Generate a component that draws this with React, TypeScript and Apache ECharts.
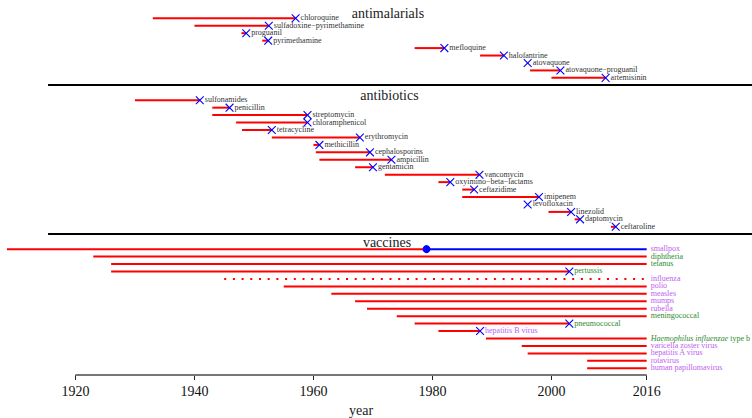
import { useEffect, useRef } from "react";
import * as echarts from "echarts";

// ---------- data ----------
const antimalarials = [
  "chloroquine",
  "sulfadoxine\u2212pyrimethamine",
  "proguanil",
  "pyrimethamine",
  "mefloquine",
  "halofantrine",
  "atovaquone",
  "atovaquone\u2212proguanil",
  "artemisinin",
];
const antimalarialIntroduced = [1933, 1940, 1947.9, 1951.4, 1977, 1988, 1996, 1996.4, 2000];
const antimalarialResistance = [1957, 1952.5, 1948.7, 1952.4, 1982, 1992, 1996, 2001.5, 2009.1];

const antibiotics = [
  "sulfonamides",
  "penicillin",
  "streptomycin",
  "chloramphenicol",
  "tetracycline",
  "erythromycin",
  "methicillin",
  "cephalosporins",
  "ampicillin",
  "gentamicin",
  "vancomycin",
  "oxyimino\u2212beta\u2212lactams",
  "ceftazidime",
  "imipenem",
  "levofloxacin",
  "linezolid",
  "daptomycin",
  "ceftaroline",
];
const antibioticIntroduced = [1930, 1943, 1943, 1947, 1948, 1953, 1960, 1960.4, 1961, 1967, 1972, 1981, 1985, 1985, 1996, 1999.5, 2003.9, 2010];
const antibioticResistance = [1940.9, 1945.9, 1959, 1959, 1953, 1967.8, 1961, 1969.5, 1973.1, 1970, 1987.9, 1983, 1987, 1997.9, 1996, 2003.3, 2004.8, 2010.8];

const vaccines = [
  "smallpox",
  "diphtheria",
  "tetanus",
  "pertussis",
  "influenza",
  "polio",
  "measles",
  "mumps",
  "rubella",
  "meningococcal",
  "pneumococcal",
  "hepatitis B virus",
  "Haemophilus influenzae type b",
  "varicella zoster virus",
  "hepatitis A virus",
  "rotavirus",
  "human papillomavirus",
];
const vaccineIntroduced = [1796, 1923, 1926, 1926, 1945, 1955, 1963, 1967, 1969, 1974, 1977, 1981, 1989, 1995, 1996, 2006, 2006];
const vaccineResistance: (number | null)[] = [null, null, null, 2003, null, null, null, null, null, null, 2003, 1988, null, null, null, null, null];
const vaccinePathogen = [
  "virus", "bacterium", "bacterium", "bacterium", "virus", "virus", "virus", "virus", "virus",
  "bacterium", "bacterium", "virus", "bacterium", "virus", "virus", "virus", "virus",
];
const seasonalVaccines = ["influenza"];
const smallpoxEradicated = 1979;
const presentYear = 2016;

const xTicks = [1920, 1940, 1960, 1980, 2000, 2016];
const axisSpan = [1920, 2016];
const panelTitles = ["antimalarials", "antibiotics", "vaccines"];
const panelBoundaries = [8.96, 28.96];
const boundaryStart = 1915.4;

// ---------- layout / style ----------
const FONT = "'Liberation Serif', 'Times New Roman', Times, serif";
const RED = "#ff0000";
const BLUE = "#0000ff";
const VIOLET = "#c060f0";
const GREEN = "#2e8b2e";
const LABEL = "#333333";
const ANTIBIOTIC_OFFSET = 11;
const VACCINE_OFFSET = 31;

type Row = {
  start: number;
  redEnd: number;
  slot: number;
  marker: number | null;
  label: string;
  color: string;
  dotted: boolean;
  eradicated: number | null;
  italicPrefix?: string;
};

function buildRows(): Row[] {
  const rows: Row[] = [];
  antimalarials.forEach((n, i) =>
    rows.push({
      start: antimalarialIntroduced[i],
      redEnd: antimalarialResistance[i],
      slot: i,
      marker: antimalarialResistance[i],
      label: n,
      color: LABEL,
      dotted: false,
      eradicated: null,
    })
  );
  antibiotics.forEach((n, i) =>
    rows.push({
      start: antibioticIntroduced[i],
      redEnd: antibioticResistance[i],
      slot: ANTIBIOTIC_OFFSET + i,
      marker: antibioticResistance[i],
      label: n,
      color: LABEL,
      dotted: false,
      eradicated: null,
    })
  );
  vaccines.forEach((n, i) => {
    const res = vaccineResistance[i];
    const erad = n === "smallpox" ? smallpoxEradicated : null;
    const row: Row = {
      start: vaccineIntroduced[i],
      redEnd: res !== null ? res : erad !== null ? erad : presentYear,
      slot: VACCINE_OFFSET + i,
      marker: res,
      label: n,
      color: vaccinePathogen[i] === "virus" ? VIOLET : GREEN,
      dotted: seasonalVaccines.includes(n),
      eradicated: erad,
    };
    if (n.startsWith("Haemophilus")) row.italicPrefix = "Haemophilus influenzae";
    rows.push(row);
  });
  return rows;
}

const titleStyle = (text: string) => ({
  text,
  fontSize: 14,
  fontFamily: FONT,
  fill: "#222",
  align: "center",
  verticalAlign: "middle",
});

export default function App() {
  const ref = useRef<HTMLDivElement>(null);

  useEffect(() => {
    if (!ref.current) return;
    const chart = echarts.init(ref.current, undefined, { renderer: "svg" });
    const rows = buildRows();

    const renderRow = (params: any, api: any) => {
      const r = rows[params.dataIndex];
      const a = api.coord([r.start, r.slot]);
      const b = api.coord([r.redEnd, r.slot]);
      const y = a[1];
      const children: any[] = [];
      const lineStyle: any = { stroke: RED, lineWidth: 2 };
      if (r.dotted) {
        lineStyle.lineDash = [2, 6.7];
      }
      children.push({
        type: "line",
        shape: { x1: a[0], y1: y, x2: b[0], y2: y },
        style: lineStyle,
      });
      let labelX = b[0] + 4;
      if (r.eradicated !== null) {
        const c = api.coord([r.eradicated, r.slot]);
        const d = api.coord([presentYear, r.slot]);
        children.push({
          type: "line",
          shape: { x1: c[0], y1: y, x2: d[0], y2: y },
          style: { stroke: BLUE, lineWidth: 2 },
        });
        children.push({
          type: "circle",
          shape: { cx: c[0], cy: y, r: 4 },
          style: { fill: BLUE },
        });
        labelX = d[0] + 4;
      }
      if (r.marker !== null) {
        const m = api.coord([r.marker, r.slot]);
        const h = 3.9;
        children.push({
          type: "line",
          shape: { x1: m[0] - h, y1: y - h, x2: m[0] + h, y2: y + h },
          style: { stroke: BLUE, lineWidth: 1.1 },
        });
        children.push({
          type: "line",
          shape: { x1: m[0] - h, y1: y + h, x2: m[0] + h, y2: y - h },
          style: { stroke: BLUE, lineWidth: 1.1 },
        });
        labelX = m[0] + 5;
      }
      const textStyle: any = {
        text: r.label,
        fill: r.color,
        fontSize: 8,
        lineHeight: 7,
        fontFamily: FONT,
        align: "left",
        verticalAlign: "middle",
      };
      if (r.italicPrefix) {
        textStyle.text = "{i|" + r.italicPrefix + "}" + r.label.slice(r.italicPrefix.length);
        textStyle.rich = {
          i: { fontStyle: "italic", fill: r.color, fontSize: 8, lineHeight: 7, fontFamily: FONT },
        };
      }
      children.push({ type: "text", x: labelX, y: y - 0.5, style: textStyle });
      return { type: "group", children };
    };

    const option: any = {
      animation: false,
      backgroundColor: "#ffffff",
      grid: { left: 7, right: 0, top: 0, bottom: 43, containLabel: false },
      xAxis: {
        type: "value",
        position: "bottom",
        min: 1908.5,
        max: 2033.7,
        axisLine: { show: false, onZero: false },
        splitLine: { show: false },
        axisTick: {
          show: true,
          customValues: xTicks,
          length: 5,
          lineStyle: { color: "#222", width: 1 },
        },
        axisLabel: {
          show: true,
          customValues: xTicks,
          formatter: (v: number) => String(v),
          fontSize: 14,
          fontFamily: FONT,
          color: "#111",
          margin: 9,
        },
      },
      yAxis: {
        type: "value",
        inverse: true,
        min: -2.4574,
        max: 47.9,
        show: false,
      },
      graphic: [
        { type: "text", x: 388, y: 13, style: titleStyle(panelTitles[0]) },
        { type: "text", x: 389.5, y: 95, style: titleStyle(panelTitles[1]) },
        { type: "text", x: 387, y: 242, style: titleStyle(panelTitles[2]) },
        { type: "text", x: 361, y: 410, style: titleStyle("year") },
      ],
      series: [
        {
          type: "custom",
          name: "boundaries",
          silent: true,
          clip: false,
          renderItem: (params: any, api: any) => {
            const p = api.coord([boundaryStart, panelBoundaries[params.dataIndex]]);
            const right = params.coordSys.x + params.coordSys.width;
            return {
              type: "line",
              shape: { x1: p[0], y1: p[1], x2: right, y2: p[1] },
              style: { stroke: "#000", lineWidth: 2 },
            };
          },
          data: panelBoundaries.map((s) => [boundaryStart, s]),
          encode: { x: 0, y: 1 },
        },
        {
          type: "custom",
          name: "axis",
          silent: true,
          clip: false,
          renderItem: (params: any, api: any) => {
            const p0 = api.coord([axisSpan[0], 0]);
            const p1 = api.coord([axisSpan[1], 0]);
            const y = params.coordSys.y + params.coordSys.height;
            return {
              type: "line",
              shape: { x1: p0[0], y1: y, x2: p1[0], y2: y },
              style: { stroke: "#777", lineWidth: 2 },
            };
          },
          data: [[axisSpan[0], axisSpan[1]]],
          encode: { x: [0, 1] },
        },
        {
          type: "custom",
          name: "timeline",
          silent: true,
          clip: true,
          renderItem: renderRow,
          data: rows.map((r) => [r.start, r.redEnd, r.slot]),
          encode: { x: [0, 1], y: 2 },
        },
      ],
    };
    chart.setOption(option);
    return () => chart.dispose();
  }, []);

  return (
    <div
      ref={ref}
      style={{ position: "absolute", left: 0, top: 0, width: 752, height: 418, background: "#fff" }}
    />
  );
}
